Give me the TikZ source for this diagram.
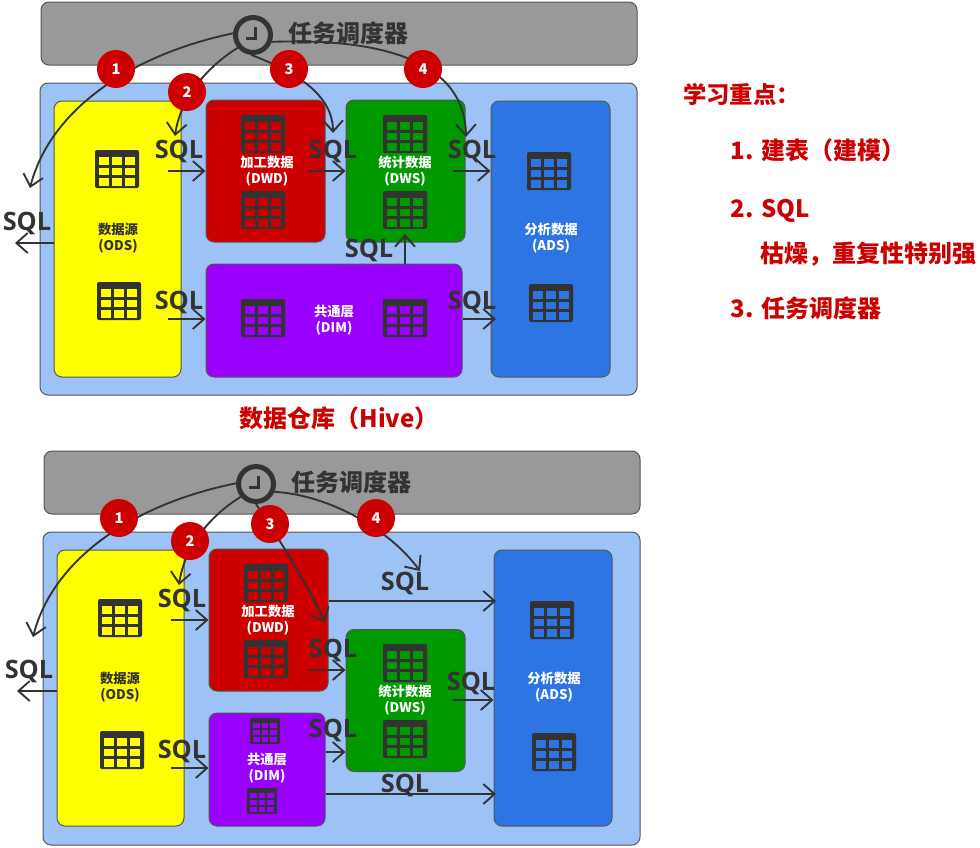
\documentclass[tikz,border=0pt]{standalone}
\usepackage{fontspec}
\setmainfont{Noto Sans CJK SC}
\newfontfamily\sqlfont{Open Sans}
\usetikzlibrary{arrows.meta}
\newdimen\px
\px=0.75pt
\definecolor{dark}{HTML}{333333}
\definecolor{frame}{HTML}{555555}
\definecolor{schedgray}{HTML}{999999}
\definecolor{paleblue}{HTML}{9DC3F6}
\definecolor{redbox}{HTML}{CC0000}
\definecolor{greenbox}{HTML}{009900}
\definecolor{bluebox}{HTML}{2C75E2}
\definecolor{purplebox}{HTML}{9900FF}
\definecolor{yellowbox}{HTML}{FFFF00}
\tikzset{
  box/.style={draw=frame, line width=0.75pt, rounded corners=6pt, inner sep=0pt},
  clock/.style={circle, draw=dark, line width=3.75pt, minimum size=35\px, inner sep=0pt},
  num/.style={circle, fill=redbox, minimum size=38\px, inner sep=0pt, text=white, font=\bfseries\fontsize{11}{11}\selectfont},
  sql/.style={inner sep=0pt, yshift=-1.5pt, text=dark, font=\sqlfont\bfseries\fontsize{19}{19}\selectfont},
  layer/.style={inner sep=0pt, yshift=-0.75pt, align=center, text=white, font=\bfseries\fontsize{10}{12}\selectfont},
  head/.style={inner sep=0pt, text=dark, font=\bfseries\fontsize{18}{18}\selectfont},
  note/.style={inner sep=0pt, anchor=west, text=redbox, font=\bfseries\fontsize{18}{18}\selectfont},
  flow/.style={-{Straight Barb[length=8.5pt,width=15pt]}, draw=dark, line width=1.4pt},
  tbl/.pic={
    \fill[dark, rounded corners=1.5pt] (-22,-19) rectangle (22,19);
    \foreach \cx in {-18,-5,8}
      \foreach \cy in {-12,-1.5,9}
        \fill[#1] (\cx,\cy) rectangle +(10,7.5);
  }
}
\begin{document}
\begin{tikzpicture}[x=0.75pt, y=-0.75pt]
\useasboundingbox (0,0) rectangle (980,847);

% upper picture
\node (S) at (339,33.5) [box, fill=schedgray, minimum width=596\px, minimum height=63\px]{};
\node (M) at (338.5,239) [box, fill=paleblue, minimum width=597\px, minimum height=312\px]{};
\node (ODS) at (117.5,239) [box, fill=yellowbox, minimum width=127\px, minimum height=276\px]{};
\node (DWD) at (265.5,171) [box, fill=redbox, minimum width=119\px, minimum height=142\px]{};
\node (DWS) at (405.5,171) [box, fill=greenbox, minimum width=119\px, minimum height=142\px]{};
\node (ADS) at (550.5,239) [box, fill=bluebox, minimum width=119\px, minimum height=276\px]{};
\node (DIM) at (334,320.5) [box, fill=purplebox, minimum width=256\px, minimum height=113\px]{};

\node (S-t) at (348,33) [head]{任务调度器};
\node (C) at (253,35) [clock]{};
\draw [dark, line width=2.25pt] ([xshift=2\px,yshift=8\px]C.center) -- ++(0,11) -- ++(-9,0);

\pic (ODS-1) at (117,169) {tbl=yellowbox};
\pic (ODS-2) at (119,301) {tbl=yellowbox};
\pic (DWD-1) at (263,134) {tbl=redbox};
\pic (DWD-2) at (263,210) {tbl=redbox};
\pic (DWS-1) at (405,134) {tbl=greenbox};
\pic (DWS-2) at (405,210) {tbl=greenbox};
\pic (ADS-1) at (549,171) {tbl=bluebox};
\pic (ADS-2) at (551,303) {tbl=bluebox};
\pic (DIM-1) at (263,318) {tbl=purplebox};
\pic (DIM-2) at (405,318) {tbl=purplebox};

\node (ODS-t) at (118,237) [layer, text=dark]{数据源\\(ODS)};
\node (DWD-t) at (267,170) [layer]{加工数据\\(DWD)};
\node (DWS-t) at (405,170) [layer]{统计数据\\(DWS)};
\node (ADS-t) at (551,237) [layer]{分析数据\\(ADS)};
\node (DIM-t) at (334,319) [layer]{共通层\\(DIM)};

\coordinate (E-1) at (30,188);
\coordinate (E-2) at (175,136);
\coordinate (E-3) at (333,133);
\coordinate (E-4) at (466,137);
\draw [flow] (C.175) .. controls (130,55) and (50,110) .. (E-1);
\draw [flow] (C.220) .. controls (205,68) and (180,100) .. (E-2);
\draw [flow] (C.265) .. controls (285,68) and (333,90) .. (E-3);
\draw [flow] (C.340) .. controls (380,38) and (465,60) .. (E-4);

\coordinate (F-1) at (168,171);
\coordinate (F-2) at (308,171);
\coordinate (F-3) at (453,171);
\coordinate (F-4) at (15,243);
\coordinate (F-5) at (168,319);
\coordinate (F-6) at (496,319);
\coordinate (F-7) at (405,234);
\draw [flow] (F-1) -- (F-1 -| DWD.west);
\draw [flow] (F-2) -- (F-2 -| DWS.west);
\draw [flow] (F-3) -- (F-3 -| ADS.west);
\draw [flow] (F-4 -| ODS.west) -- (F-4);
\draw [flow] (F-5) -- (F-5 -| DIM.west);
\draw [flow] (F-6 -| DIM.east) -- (F-6);
\draw [flow] (F-7 |- DIM.north) -- (F-7);

\node (Q-1) at (179,149) [sql]{SQL};
\node (Q-2) at (333,149) [sql]{SQL};
\node (Q-3) at (472,149) [sql]{SQL};
\node (Q-4) at (27,221) [sql]{SQL};
\node (Q-5) at (179,300) [sql]{SQL};
\node (Q-6) at (369,248) [sql]{SQL};
\node (Q-7) at (472,300) [sql]{SQL};

\node (N-1) at (116,69) [num]{1};
\node (N-2) at (187,92) [num]{2};
\node (N-3) at (289,69) [num]{3};
\node (N-4) at (423,69) [num]{4};

\node (T) at (339,418) [head, text=redbox]{数据仓库（Hive）};

% lower picture
\node (s) at (342,482.5) [box, fill=schedgray, minimum width=596\px, minimum height=63\px]{};
\node (m) at (341.5,688.5) [box, fill=paleblue, minimum width=597\px, minimum height=313\px]{};
\node (ods) at (120.5,688) [box, fill=yellowbox, minimum width=127\px, minimum height=276\px]{};
\node (dwd) at (268.5,620) [box, fill=redbox, minimum width=119\px, minimum height=142\px]{};
\node (dws) at (405.5,700.5) [box, fill=greenbox, minimum width=119\px, minimum height=142\px]{};
\node (ads) at (553,688) [box, fill=bluebox, minimum width=118\px, minimum height=276\px]{};
\node (dim) at (267,769.5) [box, fill=purplebox, minimum width=116\px, minimum height=113\px]{};

\node (s-t) at (351,482) [head]{任务调度器};
\node (c) at (256,484) [clock]{};
\draw [dark, line width=2.25pt] ([xshift=2\px,yshift=8\px]c.center) -- ++(0,11) -- ++(-9,0);

\pic (ods-1) at (120,618) {tbl=yellowbox};
\pic (ods-2) at (122,750) {tbl=yellowbox};
\pic (dwd-1) at (266,583) {tbl=redbox};
\pic (dwd-2) at (266,659) {tbl=redbox};
\pic (dws-1) at (405,663) {tbl=greenbox};
\pic (dws-2) at (405,739) {tbl=greenbox};
\pic (ads-1) at (552,620) {tbl=bluebox};
\pic (ads-2) at (554,752) {tbl=bluebox};
\pic [scale=0.68] (dim-1) at (265,731) {tbl=purplebox};
\pic [scale=0.68] (dim-2) at (262,801) {tbl=purplebox};

\node (ods-t) at (120,686) [layer, text=dark]{数据源\\(ODS)};
\node (dwd-t) at (268,619) [layer]{加工数据\\(DWD)};
\node (dws-t) at (405,699) [layer]{统计数据\\(DWS)};
\node (ads-t) at (554,686) [layer]{分析数据\\(ADS)};
\node (dim-t) at (267,767) [layer]{共通层\\(DIM)};

\coordinate (e-1) at (33,637);
\coordinate (e-2) at (179,585);
\coordinate (e-3) at (325,622);
\coordinate (e-4) at (420,571);
\draw [flow] (c.178) .. controls (133,504) and (53,559) .. (e-1);
\draw [flow] (c.220) .. controls (208,517) and (184,549) .. (e-2);
\draw [flow] (c.270) .. controls (265,518) and (300,570) .. (e-3);
\draw [flow] (c.337) .. controls (330,495) and (390,530) .. (e-4);

\coordinate (f-1) at (171,620);
\coordinate (f-2) at (17,691);
\coordinate (f-3) at (171,768);
\coordinate (f-4) at (496,601);
\coordinate (f-5) at (308,670);
\coordinate (f-6) at (453,700);
\coordinate (f-7) at (325,752);
\coordinate (f-8) at (496,794);
\draw [flow] (f-1) -- (f-1 -| dwd.west);
\draw [flow] (f-2 -| ods.west) -- (f-2);
\draw [flow] (f-3) -- (f-3 -| dim.west);
\draw [flow] (f-4 -| dwd.east) -- (f-4);
\draw [flow] (f-5) -- (f-5 -| dws.west);
\draw [flow] (f-6) -- (f-6 -| ads.west);
\draw [flow] (f-7 -| dim.east) -- (f-7 -| dws.west);
\draw [flow] (f-8 -| dim.east) -- (f-8);

\node (q-1) at (182,598) [sql]{SQL};
\node (q-2) at (29,669) [sql]{SQL};
\node (q-3) at (182,749) [sql]{SQL};
\node (q-4) at (405,581) [sql]{SQL};
\node (q-5) at (333,648) [sql]{SQL};
\node (q-6) at (471,681) [sql]{SQL};
\node (q-7) at (333,728) [sql]{SQL};
\node (q-8) at (405,783) [sql]{SQL};

\node (n-1) at (119,518) [num]{1};
\node (n-2) at (190,541) [num]{2};
\node (n-3) at (270,524) [num]{3};
\node (n-4) at (376,518) [num]{4};

% notes on the right
\node (R-1) at (683,94) [note, font=\bfseries\fontsize{17.5}{17.5}\selectfont]{学习重点：};
\node (R-2) at (730.5,150) [note]{1. 建表（建模）};
\node (R-3) at (730.5,210.5) [note]{2. SQL};
\node (R-4) at (760,254) [note]{枯燥，重复性特别强};
\node (R-5) at (730.5,308) [note]{3. 任务调度器};
\end{tikzpicture}
\end{document}
